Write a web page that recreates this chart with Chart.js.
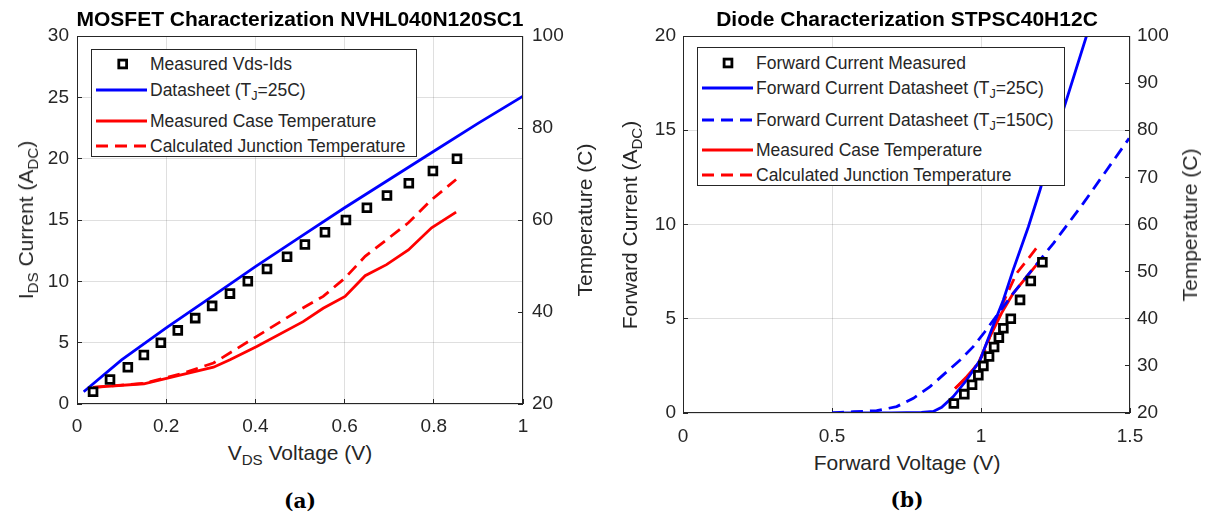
<!DOCTYPE html>
<html>
<head>
<meta charset="utf-8">
<script src="https://cdn.jsdelivr.net/npm/chart.js@4.4.1/dist/chart.umd.min.js"></script>
<style>
body{margin:0;background:#fff;font-family:"Liberation Sans",Arial,sans-serif;color:#262626}
#page{position:relative;width:1205px;height:518px;overflow:hidden}
canvas{position:absolute;top:0}
.t{position:absolute;white-space:nowrap;transform:translate(-50%,-50%)}
.rot{transform:translate(-50%,-50%) rotate(-90deg)}
.title{font-weight:bold;font-size:21px;color:#000}
.axt{font-size:21px}
.cap{font-family:"DejaVu Serif",serif;font-weight:bold;font-size:20px;color:#000}
sub{font-size:0.72em;vertical-align:-0.32em;line-height:0}
.leg{position:absolute;background:#fff;border:1px solid #262626;box-sizing:border-box}
.row{position:absolute;left:0;width:100%;height:20px;font-size:17.5px;line-height:20px;white-space:nowrap}
.row svg{position:absolute;left:0;top:0}
.row span{position:absolute;top:0}
</style>
</head>
<body>
<div id="page">
  <canvas id="c1" width="600" height="440" style="left:0"></canvas>
  <canvas id="c2" width="605" height="450" style="left:600px"></canvas>

  <div class="t title" style="left:300px;top:19px">MOSFET Characterization NVHL040N120SC1</div>
  <div class="t axt rot" style="left:26px;top:220px">I<sub>DS</sub> Current (A<sub>DC</sub>)</div>
  <div class="t axt rot" style="left:585px;top:220px">Temperature (C)</div>
  <div class="t axt" style="left:300px;top:453px">V<sub>DS</sub> Voltage (V)</div>
  <div class="t cap" style="left:300px;top:501px">(a)</div>

  <div class="t title" style="left:907px;top:19px">Diode Characterization STPSC40H12C</div>
  <div class="t axt rot" style="left:630px;top:225px">Forward Current (A<sub>DC</sub>)</div>
  <div class="t axt rot" style="left:1190px;top:225px">Temperature (C)</div>
  <div class="t axt" style="left:907px;top:463px">Forward Voltage (V)</div>
  <div class="t cap" style="left:907px;top:500px">(b)</div>
</div>
<script>
// (a) MOSFET NVHL040N120SC1
const mosVds = [0.036, 0.074, 0.114, 0.150, 0.188, 0.226, 0.265, 0.303, 0.343, 0.383,
                0.426, 0.471, 0.511, 0.556, 0.603, 0.650, 0.695, 0.744, 0.798, 0.852];
const mosIds = [1, 2, 3, 4, 5, 6, 7, 8, 9, 10, 11, 12, 13, 14, 15, 16, 17, 18, 19, 20];
const mosSheetV = [0.015, 0.1, 0.2, 0.3, 0.4, 0.5, 0.6, 0.7, 0.8, 0.9, 1.0];
const mosSheetI = [1.0, 3.6, 6.2, 8.7, 11.2, 13.6, 16.0, 18.3, 20.6, 22.9, 25.1];
const mosCaseV = [0.036, 0.150, 0.231, 0.306, 0.343, 0.403, 0.507, 0.552, 0.601, 0.646, 0.694, 0.743, 0.795, 0.850];
const mosCaseT = [23.6, 24.4, 26.3, 28.0, 29.6, 32.5, 37.9, 40.8, 43.4, 47.9, 50.3, 53.5, 58.3, 61.7];
const mosJuncV = [0.036, 0.150, 0.231, 0.306, 0.403, 0.493, 0.552, 0.601, 0.646, 0.694, 0.743, 0.795, 0.850];
const mosJuncT = [23.6, 24.5, 26.5, 28.9, 34.7, 40.1, 43.4, 47.4, 52.1, 55.7, 59.4, 64.4, 68.8];

// (b) Diode STPSC40H12C
const diodeV = [0.909, 0.944, 0.970, 0.991, 1.008, 1.027, 1.044, 1.060, 1.075, 1.100, 1.131, 1.167, 1.206];
const diodeI = [0.5, 1, 1.5, 2, 2.5, 3, 3.5, 4, 4.5, 5, 6, 7, 8];
const sheet25V = [0.5, 0.7, 0.8, 0.84, 0.868, 0.907, 0.952, 0.997, 1.04, 1.075, 1.108, 1.159, 1.198, 1.276, 1.355];
const sheet25I = [0, 0.01, 0.03, 0.08, 0.30, 0.87, 1.75, 2.81, 4.6, 6.0, 7.59, 9.88, 11.83, 16.07, 20.05];
const sheet150V = [0.5, 0.572, 0.65, 0.717, 0.773, 0.829, 0.879, 0.93, 0.974, 1.013, 1.108, 1.243, 1.343, 1.497];
const sheet150I = [0, 0.07, 0.12, 0.34, 0.78, 1.40, 2.10, 2.81, 3.52, 4.31, 6.35, 9.0, 11.12, 14.57];
const diodeCaseV = [0.913, 0.952, 0.991, 1.019, 1.041, 1.069, 1.108, 1.153, 1.200];
const diodeCaseT = [25.2, 27.7, 30.5, 34.8, 37.6, 41.2, 45.4, 48.9, 52.5];
const diodeJuncV = [0.913, 0.952, 0.974, 1.002, 1.019, 1.041, 1.080, 1.119, 1.164, 1.198];
const diodeJuncT = [25.2, 27.5, 29.1, 31.9, 34.1, 38.5, 44.2, 49.6, 53.2, 56.0];

const ink = '#262626';
const gridCol = 'rgba(38,38,38,0.15)';
const tickFont = {family: 'Liberation Sans', size: 19};
const dash = [12, 7];

function pts(xs, ys) {
    return xs.map((x, i) => ({x: x, y: ys[i]}));
}

function markers(xs, ys, axis) {
    return {data: pts(xs, ys), yAxisID: axis, pointStyle: 'rect', pointRadius: 5.5, borderWidth: 2.8,
            borderColor: '#000', backgroundColor: '#fff'};
}

function line(xs, ys, axis, color, dashed) {
    return {data: pts(xs, ys), yAxisID: axis, showLine: true, pointRadius: 0, borderWidth: 2.8,
            borderColor: color, backgroundColor: color, borderDash: dashed ? dash : []};
}

// draws the box round the plot, like MATLAB "box on"
const framePlugin = {
    id: 'frame',
    afterDraw(chart) {
        const a = chart.chartArea, c = chart.ctx;
        c.save();
        c.strokeStyle = ink;
        c.lineWidth = 1;
        c.strokeRect(a.left + 0.5, a.top + 0.5, a.right - a.left - 1, a.bottom - a.top - 1);
        c.restore();
    }
};

function axis(pos, min, max, step, size, pad, onArea) {
    return {
        type: 'linear', position: pos, min: min, max: max,
        ticks: {stepSize: step, color: ink, font: tickFont, padding: pad,
                callback: v => String(+v.toFixed(2))},
        grid: {color: gridCol, tickColor: ink, tickLength: -5, drawOnChartArea: onArea},
        border: {display: false},
        afterFit: s => { if (pos === 'bottom') s.height = size; else s.width = size; }
    };
}

function makeChart(id, datasets, scales) {
    return new Chart(document.getElementById(id), {
        type: 'scatter',
        data: {datasets: datasets},
        options: {
            responsive: false, animation: false, events: [],
            layout: {padding: {top: 36, left: 0, right: 0, bottom: 0}},
            plugins: {legend: {display: false}, tooltip: {enabled: false}},
            scales: scales
        },
        plugins: [framePlugin]
    });
}

makeChart('c1', [
    markers(mosVds, mosIds, 'y'),
    line(mosSheetV, mosSheetI, 'y', '#0000ff', false),
    line(mosCaseV, mosCaseT, 'y1', '#ff0000', false),
    line(mosJuncV, mosJuncT, 'y1', '#ff0000', true)
], {
    x: axis('bottom', 0, 1, 0.2, 36, 16, true),
    y: axis('left', 0, 30, 5, 77, 13, true),
    y1: axis('right', 20, 100, 20, 77, 14, false)
});

makeChart('c2', [
    markers(diodeV, diodeI, 'y'),
    line(sheet25V, sheet25I, 'y', '#0000ff', false),
    line(sheet150V, sheet150I, 'y', '#0000ff', true),
    line(diodeCaseV, diodeCaseT, 'y1', '#ff0000', false),
    line(diodeJuncV, diodeJuncT, 'y1', '#ff0000', true)
], {
    x: axis('bottom', 0, 1.5, 0.5, 37, 17, true),
    y: axis('left', 0, 20, 5, 83, 12, true),
    y1: axis('right', 20, 100, 10, 75, 12, false)
});

// legends as html so the subscripts stay real text
function legend(box, textLeft, items) {
    const d = document.createElement('div');
    d.className = 'leg';
    d.style.left = box[0] + 'px';
    d.style.top = box[1] + 'px';
    d.style.width = box[2] + 'px';
    d.style.height = box[3] + 'px';
    items.forEach(it => {
        const r = document.createElement('div');
        r.className = 'row';
        r.style.top = (it.cy - 10) + 'px';
        let g;
        if (it.color === null) {
            g = `<rect x="${it.mx - 3.9}" y="6.1" width="7.8" height="7.8" fill="#fff" stroke="#000" stroke-width="2.8"/>`;
        } else {
            g = `<line x1="4" y1="10" x2="${textLeft - 3}" y2="10" stroke="${it.color}" stroke-width="3"` +
                (it.dashed ? ` stroke-dasharray="${dash.join(',')}"` : '') + '/>';
        }
        r.innerHTML = `<svg width="${textLeft}" height="20">${g}</svg><span style="left:${textLeft}px">${it.label}</span>`;
        d.appendChild(r);
    });
    document.getElementById('page').appendChild(d);
}

legend([91, 49, 326, 108], 58, [
    {label: 'Measured Vds-Ids', color: null, mx: 30.7, cy: 14},
    {label: 'Datasheet (T<sub>J</sub>=25C)', color: '#0000ff', cy: 40},
    {label: 'Measured Case Temperature', color: '#ff0000', cy: 71},
    {label: 'Calculated Junction Temperature', color: '#ff0000', dashed: true, cy: 96}
]);

legend([697, 47, 368, 139], 58, [
    {label: 'Forward Current Measured', color: null, mx: 30, cy: 15},
    {label: 'Forward Current Datasheet (T<sub>J</sub>=25C)', color: '#0000ff', cy: 40},
    {label: 'Forward Current Datasheet (T<sub>J</sub>=150C)', color: '#0000ff', dashed: true, cy: 72},
    {label: 'Measured Case Temperature', color: '#ff0000', cy: 102},
    {label: 'Calculated Junction Temperature', color: '#ff0000', dashed: true, cy: 127}
]);
</script>
</body>
</html>
